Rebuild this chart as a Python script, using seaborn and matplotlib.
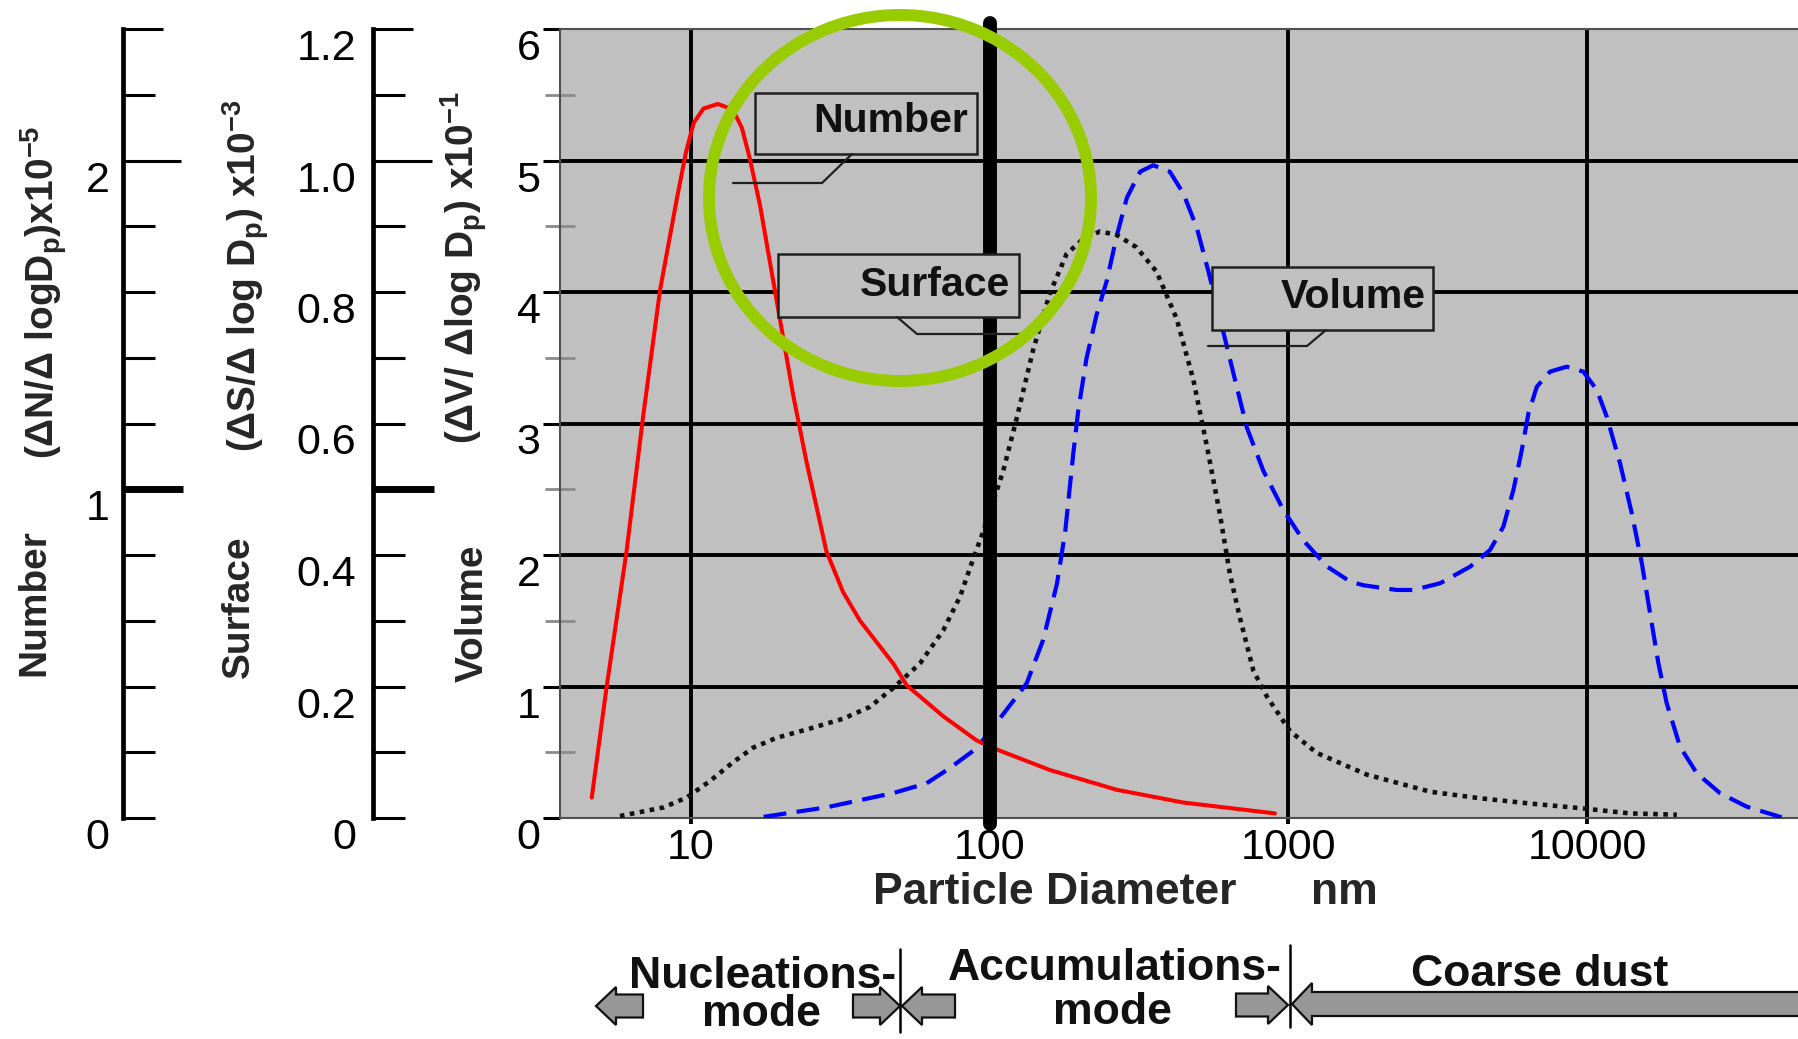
import numpy as np
import matplotlib
matplotlib.use("Agg")
import matplotlib.pyplot as plt
import seaborn as sns
from matplotlib.patches import Rectangle, Ellipse, Polygon
from matplotlib.lines import Line2D

# ---------------- data ----------------
number_diam = [4.65, 5.21, 6.08, 6.92, 7.87, 8.95, 9.62, 10.2, 11.0, 12.3, 13.8, 14.8,
               15.7, 17.0, 18.6, 20.1, 22.0, 24.4, 28.4, 32.3, 36.8, 47.6, 52.7, 70.0,
               90.4, 108, 159, 266, 445, 902]
number_vals = [0.062, 0.396, 0.811, 1.226, 1.605, 1.881, 2.026, 2.114, 2.158, 2.172, 2.155,
               2.099, 2.009, 1.866, 1.663, 1.488, 1.284, 1.080, 0.811, 0.687, 0.600, 0.469,
               0.404, 0.309, 0.236, 0.205, 0.146, 0.086, 0.047, 0.014]

surface_diam = [5.78, 8.07, 9.66, 11.55, 13.84, 16.14, 19.35, 25.0, 32.3, 39.7, 47.6, 58.4,
                70.0, 79.6, 88.2, 95.2, 111, 123, 140, 159, 181, 206, 234, 266, 310, 362,
                423, 481, 533, 590, 638, 689, 764, 847, 1014, 1245, 1832, 2985, 4387, 6446,
                9480, 13930, 20000]
surface_vals = [0.003, 0.016, 0.031, 0.056, 0.085, 0.107, 0.122, 0.136, 0.151, 0.169, 0.198,
                0.235, 0.286, 0.337, 0.395, 0.436, 0.528, 0.607, 0.713, 0.798, 0.858, 0.881,
                0.892, 0.887, 0.868, 0.831, 0.759, 0.666, 0.567, 0.462, 0.370, 0.304, 0.224,
                0.185, 0.132, 0.099, 0.066, 0.040, 0.030, 0.022, 0.015, 0.007, 0.005]

volume_diam = [17.5, 28.4, 47.6, 61.5, 73.6, 90.4, 111, 133, 151, 168, 179, 190.5, 198, 211,
               228, 247, 266, 288, 319, 353, 401, 445, 494, 540, 606, 663, 726, 825, 962,
               1122, 1345, 1610, 1783, 2307, 2624, 3222, 4061, 4736, 5248, 5671, 6051, 6370,
               6796, 7520, 8555, 9730, 10790, 11650, 12910, 14130, 15270, 16270, 17350,
               18500, 20500, 23330, 27930, 34300, 44900]
volume_vals = [0.009, 0.081, 0.19, 0.264, 0.38, 0.53, 0.79, 1.024, 1.354, 1.782, 2.178,
               2.771, 3.101, 3.497, 3.827, 4.09, 4.421, 4.717, 4.915, 4.964, 4.915, 4.75,
               4.487, 4.157, 3.695, 3.332, 2.970, 2.640, 2.343, 2.112, 1.914, 1.798, 1.77,
               1.734, 1.734, 1.785, 1.911, 2.038, 2.215, 2.494, 2.798, 3.078, 3.28, 3.394,
               3.432, 3.394, 3.255, 3.052, 2.697, 2.317, 1.937, 1.557, 1.176, 0.872, 0.542,
               0.340, 0.188, 0.086, 0.005]

x_ticks = [10, 100, 1000, 10000]
x_tick_labels = ["10", "100", "1000", "10000"]
volume_ticks = [0, 1, 2, 3, 4, 5, 6]
volume_tick_labels = ["0", "1", "2", "3", "4", "5", "6"]
number_ticks = [round(i * 0.2, 1) for i in range(13)]
number_tick_labels = ["0", "", "", "", "", "1", "", "", "", "", "2", "", ""]
surface_ticks = [round(i * 0.1, 1) for i in range(13)]
surface_tick_labels = ["0", "", "0.2", "", "0.4", "", "0.6", "", "0.8", "", "1.0", "", "1.2"]

box_labels = ["Number", "Surface", "Volume"]
mode_labels = ["Nucleations-", "mode", "Accumulations-", "mode", "Coarse dust"]

# ---------------- style ----------------
sns.set_style("ticks")
plt.rcParams['font.family'] = ['Liberation Sans', 'DejaVu Sans']
plt.rcParams['mathtext.default'] = 'regular'

W, H = 1798, 1039
fig = plt.figure(figsize=(W / 100, H / 100), dpi=100)
fig.patch.set_facecolor('white')


def fx(x):
    return x / W


def fy(y):
    return 1 - y / H


L, R, T, B = 560, 1798, 29, 818
ax = fig.add_axes([fx(L), fy(B), (R - L) / W, (B - T) / H])
ax.set_facecolor('#c0c0c0')
ax.set_xscale('log')
axN = ax.twinx()
axS = ax.twinx()

# ---------------- curves ----------------
sns.lineplot(x=volume_diam, y=volume_vals, ax=ax, color='#0000ff', linewidth=3.0,
             linestyle=(0, (5.5, 2.5)), sort=False, estimator=None, zorder=3)
sns.lineplot(x=number_diam, y=number_vals, ax=axN, color='#ff0000', linewidth=2.9,
             sort=False, estimator=None, zorder=3)
sns.lineplot(x=surface_diam, y=surface_vals, ax=axS, color='#111111', linewidth=3.3,
             linestyle=(0, (1, 1.2)), dash_capstyle='butt', sort=False, estimator=None,
             zorder=3)

for a in (ax, axN, axS):
    a.set_xlabel("")
    a.set_ylabel("")

ax.set_xlim(3.64, 50900)
ax.set_ylim(0, 6)
axN.set_ylim(0, 2.4)
axS.set_ylim(0, 1.2)

# ---------------- main (volume) axis ----------------
ax.set_xticks(x_ticks, labels=x_tick_labels)
ax.set_xticks([], minor=True)
ax.set_yticks(volume_ticks, labels=volume_tick_labels)
ax.set_yticks(np.arange(0.5, 6, 1.0), minor=True)
ax.tick_params(axis='x', which='major', direction='out', length=4, width=2.8,
               color='black', labelsize=31, pad=3, labelcolor='black', bottom=True)
ax.tick_params(axis='y', which='major', direction='out', length=12, width=2.2,
               color='black', labelsize=31, pad=2, labelcolor='black', left=True)
ax.tick_params(axis='y', which='minor', direction='inout', length=22, width=2.0,
               color='#8a8a8a', left=True)
ax.grid(True, which='major', axis='both', color='black', linewidth=2.8)
ax.set_axisbelow(True)
for s in ['left', 'top', 'bottom']:
    ax.spines[s].set_color('#505050')
    ax.spines[s].set_linewidth(1.5)
ax.spines['right'].set_visible(False)

# ---------------- extra left axes ----------------
for a, off, ticks, labs, pad in ((axN, 315, number_ticks, number_tick_labels, 9.5),
                                 (axS, 134.6, surface_ticks, surface_tick_labels, 12.2)):
    a.yaxis.set_ticks_position('left')
    a.yaxis.set_label_position('left')
    for s in ['right', 'top', 'bottom']:
        a.spines[s].set_visible(False)
    a.spines['left'].set_visible(True)
    a.spines['left'].set_position(('outward', off))
    a.spines['left'].set_linewidth(3.4)
    a.spines['left'].set_color('black')
    a.set_yticks(ticks, labels=labs)
    a.tick_params(axis='y', which='major', direction='in', length=23, width=2.2,
                  color='black', labelsize=31, pad=pad, left=True, right=False,
                  labelleft=True, labelright=False, labelcolor='black')

# hide gridlines at border values
yt = ax.yaxis.get_major_ticks()
yt[0].gridline.set_visible(False)
yt[-1].gridline.set_visible(False)

# thick reference line at 100 nm
axS.axvline(100, color='black', lw=10, ymin=-0.0076, ymax=1.0076, clip_on=False, zorder=5)

# ---------------- callout boxes ----------------
def label_box(axh, x0, y0, x1, y1, text, tx, ty, leader):
    axh.add_patch(Rectangle((x0, y0), x1 - x0, y1 - y0, transform=axh.transAxes,
                            facecolor='#c0c0c0', edgecolor='#202020', lw=1.8,
                            zorder=6, clip_on=False))
    axh.text(tx, ty, text, transform=axh.transAxes, ha='right', va='center',
             fontsize=29.5, fontweight='bold', zorder=7, color='#111111')
    xs, ys = zip(*leader)
    axh.add_line(Line2D(xs, ys, transform=axh.transAxes, color='#202020', lw=1.6,
                        zorder=6))


def axc(x, y):
    return ((x - L) / (R - L), (B - y) / (B - T))


boxes = [
    (box_labels[0], (755, 93, 977, 154), (968, 121), [(852, 154), (822, 183), (733, 183)]),
    (box_labels[1], (778, 254, 1019, 317), (1010, 285), [(897, 317), (917, 334), (1022, 334)]),
    (box_labels[2], (1212, 267, 1433, 330), (1426, 297), [(1326, 330), (1307, 346), (1208, 346)]),
]
for text, (x0, y0, x1, y1), (tx, ty), leader in boxes:
    a0 = axc(x0, y1)
    a1 = axc(x1, y0)
    t = axc(tx, ty)
    label_box(axS, a0[0], a0[1], a1[0], a1[1], text, t[0], t[1], [axc(*p) for p in leader])

# ---------------- green highlight circle ----------------
fig.add_artist(Ellipse((fx(900), fy(198)), width=382 / W, height=366 / H,
                       transform=fig.transFigure, fill=False, edgecolor='#99cc00',
                       lw=8.6, zorder=10))

# ---------------- axis titles ----------------
fig.text(fx(44), fy(292), r'(ΔN/Δ logD$_\mathregular{p}$)x10$^\mathregular{-5}$',
         rotation=90, ha='center', va='center', fontsize=28, fontweight='bold')
fig.text(fx(34), fy(603), 'Number', rotation=90, ha='center', va='center',
         fontsize=28, fontweight='bold')
fig.text(fx(246), fy(276), r'(ΔS/Δ log D$_\mathregular{p}$) x10$^\mathregular{-3}$',
         rotation=90, ha='center', va='center', fontsize=28, fontweight='bold')
fig.text(fx(239), fy(607), 'Surface', rotation=90, ha='center', va='center',
         fontsize=28, fontweight='bold')
fig.text(fx(464), fy(268), r'(ΔV/ Δlog D$_\mathregular{p}$) x10$^\mathregular{-1}$',
         rotation=90, ha='center', va='center', fontsize=28, fontweight='bold')
fig.text(fx(473), fy(613), 'Volume', rotation=90, ha='center', va='center',
         fontsize=28, fontweight='bold')

ax.xaxis.set_label_text("Particle Diameter", fontsize=32, fontweight='bold')
ax.xaxis.set_label_coords(*axc(1055, 893))
ax.xaxis.label.set_va('center')
ax.text(*axc(1344, 893), "nm", transform=ax.transAxes, ha='center', va='center',
        fontsize=32, fontweight='bold')

# ---------------- mode annotations ----------------
def arrow(tail, tip, cy, bh=11.5, hh=19, hl=20):
    d = 1 if tip > tail else -1
    pts = [(tail, cy - bh), (tip - d * hl, cy - bh), (tip - d * hl, cy - hh), (tip, cy),
           (tip - d * hl, cy + hh), (tip - d * hl, cy + bh), (tail, cy + bh)]
    fig.add_artist(Polygon([(fx(x), fy(y)) for x, y in pts], closed=True,
                           transform=fig.transFigure, facecolor='#979797',
                           edgecolor='#111111', lw=1.6, clip_on=False))


arrow(643, 596, 1006)
arrow(853, 900, 1006)
arrow(955, 902, 1006)
arrow(1236, 1288, 1005)
arrow(1830, 1292, 1004, bh=12, hh=21, hl=20)

for xdiv, y0, y1 in ((900, 949, 1032), (1290, 945, 1027)):
    fig.add_artist(Line2D([fx(xdiv), fx(xdiv)], [fy(y0), fy(y1)],
                          transform=fig.transFigure, color='black', lw=1.8))

for text, (x, y) in zip(mode_labels, [(763, 976), (761, 1014), (1115, 969),
                                      (1112, 1013), (1540, 975)]):
    fig.text(fx(x), fy(y), text, ha='center', va='center', fontsize=32,
             fontweight='bold', color='#111111')

# ---------------- individual tick styling ----------------
nt = axN.yaxis.get_major_ticks()
nt[10].tick1line.set_markersize(41.8)
nt[5].tick1line.set_markersize(43)
nt[5].tick1line.set_markeredgewidth(5)
nt[12].tick1line.set_markersize(29)
st = axS.yaxis.get_major_ticks()
st[10].tick1line.set_markersize(42.5)
st[5].tick1line.set_markersize(44)
st[5].tick1line.set_markeredgewidth(5)
st[12].tick1line.set_markersize(29)

for a in (ax, axN, axS):
    for lbl in a.get_yticklabels():
        lbl.set_va('top')

fig.savefig("out.png", dpi=100)
